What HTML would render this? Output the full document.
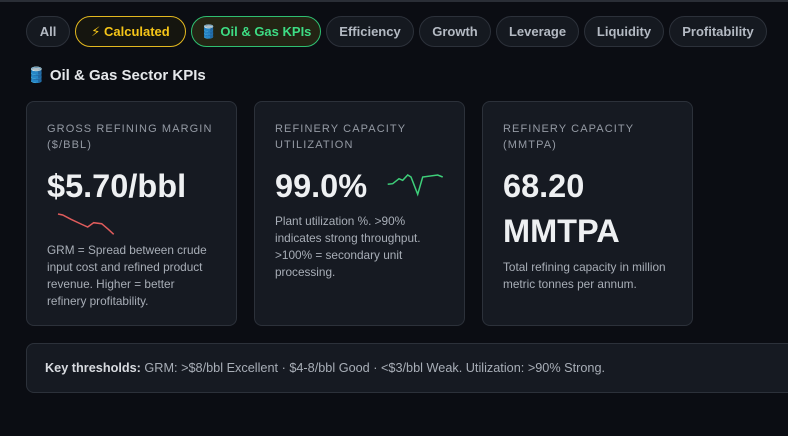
<!DOCTYPE html>
<html><head><meta charset="utf-8"><style>
*{box-sizing:border-box;margin:0;padding:0}
body{width:788px;height:436px;background:#0b0d13;font-family:"Liberation Sans","DejaVu Sans",sans-serif;position:relative;overflow:hidden;color:#e6e8eb}
.top{position:absolute;left:0;top:0;width:788px;height:2px;background:#2a2e36}
.pill{position:absolute;top:16px;height:31px;border:1px solid #2c313a;border-radius:16px;background:#151920;color:#b4bac3;font-weight:bold;font-size:13px;line-height:29px;text-align:center}
.card{position:absolute;top:101px;width:211px;height:225px;background:#161a22;border:1px solid #2c313a;border-radius:8px}
.lab{position:absolute;left:20px;top:19px;font-size:11px;letter-spacing:1.1px;color:#949aa4;line-height:16px}
.val{position:absolute;left:20px;top:62px;font-size:32.5px;font-weight:bold;color:#eef0f2;line-height:45px}
.desc{position:absolute;left:20px;font-size:11.8px;line-height:17px;color:#a8aeb7}
</style></head><body>
<div class="top"></div>
<div class="pill" style="left:26px;width:44px">All</div>
<div class="pill" style="left:75px;width:111px;border-color:#e3b81f;color:#f5c518;background:#15150f">⚡ Calculated</div>
<div class="pill" style="left:191px;width:130px;border-color:#2fbf71;color:#3ddc84;background:#232414">🛢️ Oil &amp; Gas KPIs</div>
<div class="pill" style="left:326px;width:88px">Efficiency</div>
<div class="pill" style="left:419px;width:72px">Growth</div>
<div class="pill" style="left:496px;width:83px">Leverage</div>
<div class="pill" style="left:584px;width:80px">Liquidity</div>
<div class="pill" style="left:669px;width:98px">Profitability</div>
<div style="position:absolute;left:27px;top:66px;font-size:15px;font-weight:bold;color:#e6e8eb">🛢️ Oil &amp; Gas Sector KPIs</div>

<div class="card" style="left:26px">
<div class="lab">GROSS REFINING MARGIN<br>($/BBL)</div>
<div class="val">$5.70/bbl</div>
<svg style="position:absolute;left:0;top:0" width="211" height="225"><polyline fill="none" stroke="#e05c5c" stroke-width="1.5" points="31,112 35.7,113 44,117.3 54,122 60.7,125 66.7,120.7 74.7,121.7 81.3,127.3 86.7,132.3"/></svg>
<div class="desc" style="top:140px">GRM = Spread between crude<br>input cost and refined product<br>revenue. Higher = better<br>refinery profitability.</div>
</div>

<div class="card" style="left:254px">
<div class="lab">REFINERY CAPACITY<br>UTILIZATION</div>
<div class="val">99.0%</div>
<svg style="position:absolute;left:0;top:0" width="211" height="225"><polyline fill="none" stroke="#3ecf7a" stroke-width="1.5" points="132.7,82.3 137.7,81.7 144,76.7 147.7,78.3 152.7,73 156,75 162.7,92.3 167.7,75 182.7,73 187.7,75"/></svg>
<div class="desc" style="top:111px">Plant utilization %. &gt;90%<br>indicates strong throughput.<br>&gt;100% = secondary unit<br>processing.</div>
</div>

<div class="card" style="left:482px">
<div class="lab">REFINERY CAPACITY<br>(MMTPA)</div>
<div class="val">68.20<br>MMTPA</div>
<div class="desc" style="top:157px">Total refining capacity in million<br>metric tonnes per annum.</div>
</div>

<div style="position:absolute;left:26px;top:343px;width:790px;height:50px;background:#161a22;border:1px solid #2c313a;border-radius:8px;font-size:12.7px;line-height:48px;padding-left:18px;color:#a8aeb7"><b style="color:#d8dbe0">Key thresholds:</b> GRM: &gt;$8/bbl Excellent · $4-8/bbl Good · &lt;$3/bbl Weak. Utilization: &gt;90% Strong.</div>
</body></html>
